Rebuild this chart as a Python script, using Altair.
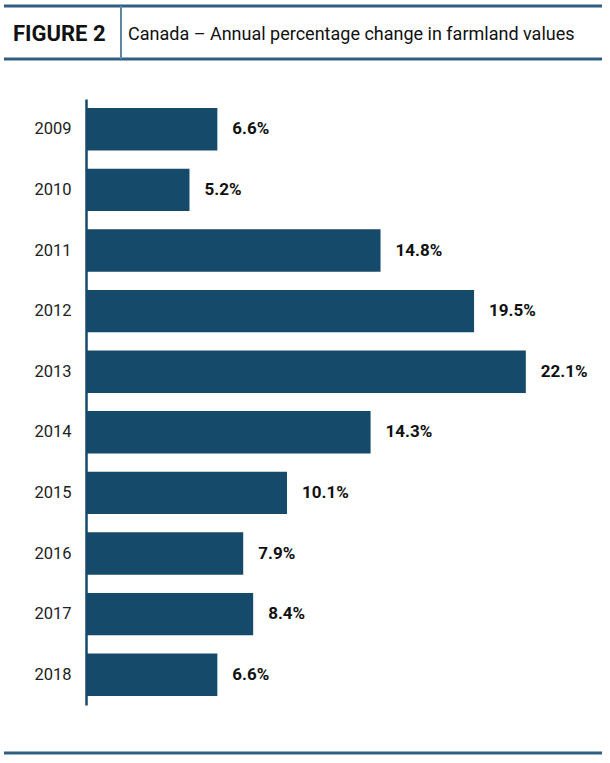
import altair as alt
import pandas as pd

years = ["2009", "2010", "2011", "2012", "2013", "2014", "2015", "2016", "2017", "2018"]
values = [6.6, 5.2, 14.8, 19.5, 22.1, 14.3, 10.1, 7.9, 8.4, 6.6]
labels = ["6.6%", "5.2%", "14.8%", "19.5%", "22.1%", "14.3%", "10.1%", "7.9%", "8.4%", "6.6%"]
fig_label = "FIGURE 2"
fig_title = "Canada \u2013 Annual percentage change in farmland values"

df = pd.DataFrame({"year": years, "value": values, "label": labels})
one = pd.DataFrame({"a": [0]})

BAR = "#164a6a"
LINE = "#2e5f80"
FONT = "Roboto"

y_enc = alt.Y("year:N", sort=years, title=None,
              scale=alt.Scale(paddingInner=0.3, paddingOuter=0.15),
              axis=alt.Axis(domainColor=BAR, domainWidth=2.5, ticks=False,
                            labelPadding=15, labelFont=FONT,
                            labelFontSize=16.5, labelColor="#222222"))
x_enc = alt.X("value:Q", title=None, axis=None,
              scale=alt.Scale(domain=[0, 26.33], nice=False, zero=True))

bars = alt.Chart(df).mark_bar(color=BAR).encode(x=x_enc, y=y_enc)
text = alt.Chart(df).mark_text(align="left", baseline="middle", dx=15,
                               font=FONT, fontWeight="bold",
                               fontSize=17, color="#111111").encode(
    x=x_enc, y=alt.Y("year:N", sort=years), text="label:N")

base = alt.Chart(one)
top_line = base.mark_rule(color=LINE, strokeWidth=3).encode(
    x=alt.value(-82), x2=alt.value(516), y=alt.value(-93))
mid_line = base.mark_rule(color=LINE, strokeWidth=3).encode(
    x=alt.value(-82), x2=alt.value(516), y=alt.value(-40))
sep_line = base.mark_rule(color="#5f87a3", strokeWidth=2).encode(
    x=alt.value(35), y=alt.value(-93), y2=alt.value(-40))
bot_line = base.mark_rule(color=LINE, strokeWidth=3).encode(
    x=alt.value(-82), x2=alt.value(516), y=alt.value(654))
fig_txt = base.mark_text(align="left", baseline="alphabetic", font=FONT,
                         fontWeight="bold", fontSize=22, color="#111111").encode(
    x=alt.value(-73), y=alt.value(-58), text=alt.value(fig_label))
title_txt = base.mark_text(align="left", baseline="alphabetic", font=FONT,
                           fontSize=18, color="#111111").encode(
    x=alt.value(42), y=alt.value(-59), text=alt.value(fig_title))

chart = alt.layer(bars, text, top_line, mid_line, sep_line, bot_line, fig_txt, title_txt).properties(
    width=524, height=606,
    autosize=alt.AutoSizeParams(type="none"),
    padding={"left": 86, "top": 99, "right": 0, "bottom": 58},
    background="white",
).configure_view(stroke=None)

chart.save("out.html", embed_options={"renderer": "svg", "actions": False})
